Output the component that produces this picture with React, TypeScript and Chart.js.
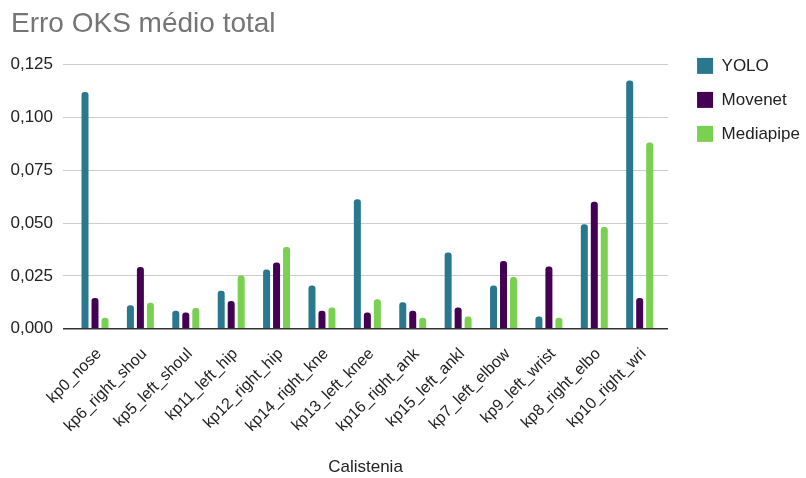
import React, { useEffect, useRef } from "react";
import { Chart, registerables } from "chart.js";

Chart.register(...registerables);

const categories = [
  "kp0_nose",
  "kp6_right_shou",
  "kp5_left_shoul",
  "kp11_left_hip",
  "kp12_right_hip",
  "kp14_right_kne",
  "kp13_left_knee",
  "kp16_right_ank",
  "kp15_left_ankl",
  "kp7_left_elbow",
  "kp9_left_wrist",
  "kp8_right_elbo",
  "kp10_right_wri",
];

const yolo = [0.112, 0.0111, 0.0085, 0.0179, 0.028, 0.0204, 0.0612, 0.0125, 0.0361, 0.0204, 0.0058, 0.0494, 0.1175];
const movenet = [0.0145, 0.0292, 0.0077, 0.0131, 0.0313, 0.0085, 0.0077, 0.0085, 0.01, 0.032, 0.0294, 0.0601, 0.0145];
const mediapipe = [0.0052, 0.0123, 0.0098, 0.0252, 0.0386, 0.01, 0.0139, 0.0052, 0.0058, 0.0245, 0.0052, 0.0481, 0.0881];

const yTicks = [0, 0.025, 0.05, 0.075, 0.1, 0.125];

const seriesNames = ["YOLO", "Movenet", "Mediapipe"];
const seriesColors = ["#2a788e", "#440154", "#7ad151"];

export default function App() {
  const ref = useRef<HTMLCanvasElement | null>(null);

  useEffect(() => {
    if (!ref.current) return;
    Chart.defaults.font.family = '"Liberation Sans", Arial, sans-serif';
    const values = [yolo, movenet, mediapipe];
    const chart = new Chart(ref.current, {
      type: "bar",
      data: {
        labels: categories,
        datasets: values.map((v, i) => ({
          label: seriesNames[i],
          data: v,
          backgroundColor: seriesColors[i],
          borderWidth: 0,
          borderRadius: 3,
          categoryPercentage: 0.66,
          barPercentage: 0.7,
          yAxisID: "y",
        })),
      },
      options: {
        responsive: false,
        animation: false,
        layout: { padding: { left: 11, right: -4, top: 0, bottom: 0 } },
        plugins: {
          title: {
            display: true,
            text: "Erro OKS médio total",
            align: "start",
            color: "#757575",
            font: { size: 28, weight: "normal" },
            padding: { top: 7, bottom: 24 },
          },
          legend: {
            position: "right",
            align: "start",
            title: {
              display: true,
              text: " ",
              font: { size: 17 },
              padding: { top: 20, bottom: 0 },
            },
            labels: {
              boxWidth: 16,
              boxHeight: 16,
              padding: 17,
              color: "#222",
              font: { size: 17 },
            },
          },
          tooltip: { enabled: false },
        },
        scales: {
          x: {
            type: "category",
            offset: true,
            grid: { display: false, drawTicks: false },
            border: { display: false },
            ticks: {
              autoSkip: false,
              minRotation: 45,
              maxRotation: 45,
              padding: 16,
              labelOffset: 4,
              color: "#222",
              font: { size: 16 },
            },
            title: {
              display: true,
              text: "Calistenia",
              color: "#222",
              font: { size: 17 },
              padding: { top: 6, bottom: 0 },
            },
            afterBuildTicks: (scale: any) => {
              scale._startValue = -0.705;
              scale._valueRange = 13.33;
            },
            afterFit: (scale: any) => {
              scale.paddingLeft = 0;
              scale.paddingRight = 0;
            },
          },
          y: {
            min: 0,
            max: 0.125,
            afterBuildTicks: (scale: any) => {
              scale.ticks = yTicks.map((v) => ({ value: v }));
            },
            afterFit: (scale: any) => {
              scale.width = 52;
            },
            grid: {
              drawTicks: false,
              color: (ctx: any) => (ctx.tick && ctx.tick.value === 0 ? "#333333" : "#cccccc"),
              lineWidth: (ctx: any) => (ctx.tick && ctx.tick.value === 0 ? 1.5 : 1),
            },
            border: { display: false },
            ticks: {
              padding: 10,
              color: "#222",
              font: { size: 17 },
              callback: (v: any) => Number(v).toFixed(3).replace(".", ","),
            },
          },
          yr: {
            type: "linear",
            position: "right",
            display: true,
            grid: { display: false, drawTicks: false },
            border: { display: false },
            ticks: { display: false },
            afterFit: (scale: any) => {
              scale.width = 12;
            },
          },
        },
      },
    });
    return () => chart.destroy();
  }, []);

  return (
    <div style={{ position: "fixed", left: 0, top: 0, width: 806, height: 478, background: "#fff" }}>
      <canvas ref={ref} width={806} height={478} />
    </div>
  );
}
